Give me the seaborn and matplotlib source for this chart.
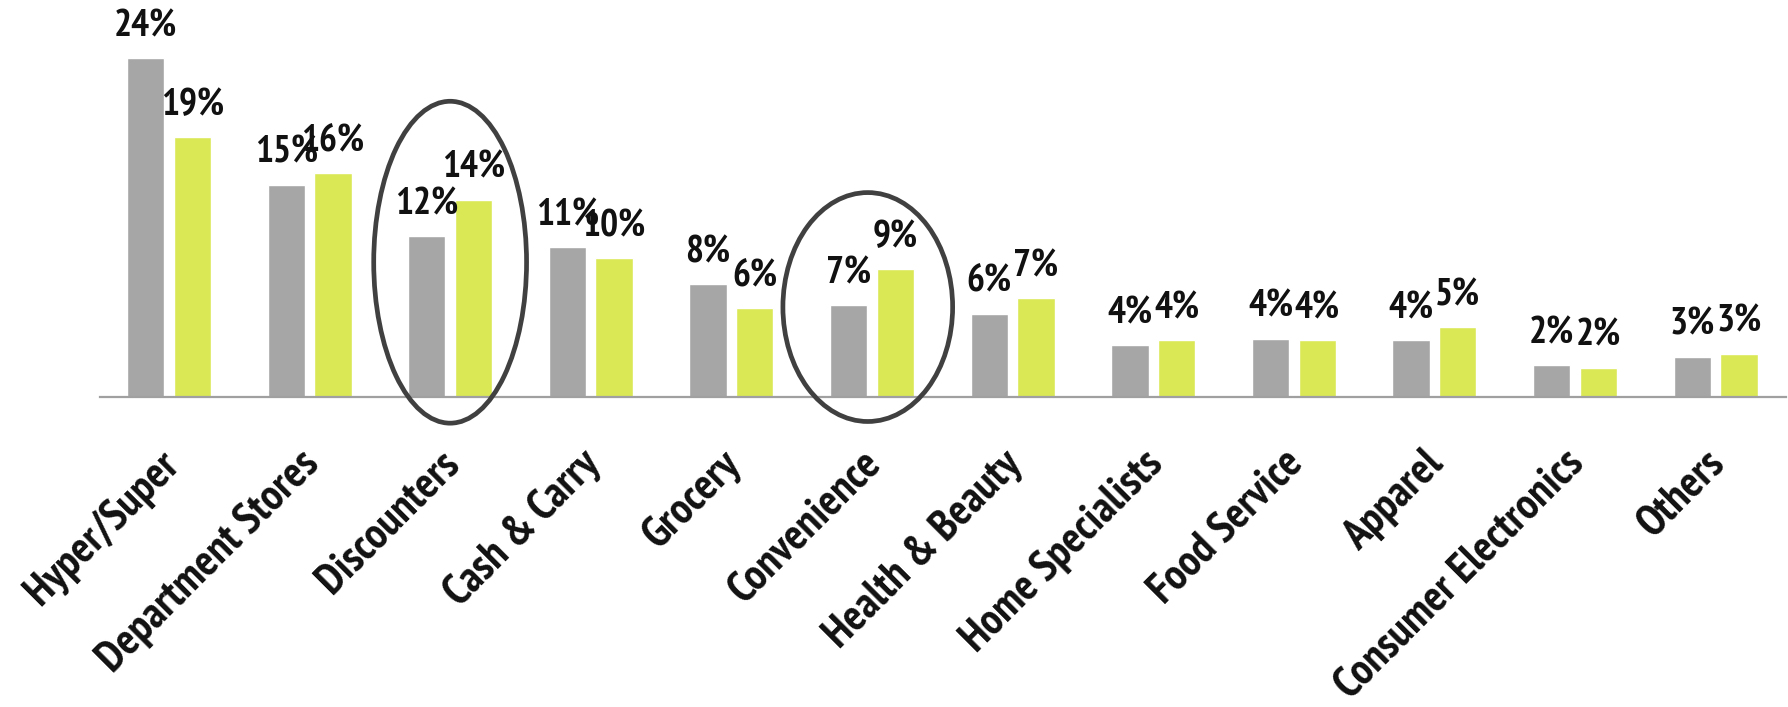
import os
import pandas as pd
import seaborn as sns
import matplotlib
matplotlib.use("Agg")
import matplotlib.pyplot as plt
from matplotlib import font_manager as fm
from matplotlib.textpath import TextPath
from matplotlib.patches import Ellipse
from matplotlib.transforms import ScaledTranslation

# Retail channel shares, two periods
categories = ["Hyper/Super", "Department Stores", "Discounters", "Cash & Carry",
              "Grocery", "Convenience", "Health & Beauty", "Home Specialists",
              "Food Service", "Apparel", "Consumer Electronics", "Others"]
share_prior = [24.4, 15.3, 11.6, 10.8, 8.1, 6.6, 6.0, 3.7, 4.2, 4.1, 2.3, 2.9]
share_current = [18.7, 16.1, 14.2, 10.0, 6.4, 9.2, 7.1, 4.1, 4.1, 5.0, 2.1, 3.1]
series_names = ["Prior", "Current"]
highlighted = ["Discounters", "Convenience"]

df = pd.DataFrame({
    "channel": categories * 2,
    "share": share_prior + share_current,
    "period": [series_names[0]] * len(categories) + [series_names[1]] * len(categories),
})

sns.set_theme(style="white")
plt.rcParams["font.family"] = ["DejaVu Sans"]


def bold_narrow_font():
    """Pick an upright bold condensed face if one is installed."""
    ranked = []
    for f in fm.fontManager.ttflist:
        key = (f.name + " " + os.path.basename(f.fname)).lower()
        if "italic" in key or "oblique" in key:
            continue
        narrow = any(k in key for k in ("narrow", "condensed", "compressed")) or \
            str(f.stretch) in ("condensed", "semi-condensed", "extra-condensed", "ultra-condensed")
        try:
            w = int(f.weight)
        except (TypeError, ValueError):
            w = 700 if "bold" in str(f.weight) else 400
        bold = w >= 600 or "bold" in key
        if narrow and bold:
            score = 0 if "narrow" in key else (1 if "condensed" in key else 2)
            ranked.append((score, f.fname))
    if ranked:
        ranked.sort()
        return fm.FontProperties(fname=ranked[0][1])
    return fm.FontProperties(family="DejaVu Sans", weight="bold")


def fitted(fp, text, width_px, height_text, height_px):
    """Font size (pt) so that the text's ink fits the given pixel box."""
    probe = fp.copy()
    probe.set_size(100)
    w = TextPath((0, 0), text, prop=probe).get_extents().width / 100
    h = TextPath((0, 0), height_text, prop=probe).get_extents().height / 100
    return min(width_px * 0.72 / w, height_px * 0.72 / h)


base_fp = bold_narrow_font()
value_fp = base_fp.copy()
value_fp.set_size(fitted(base_fp, "24%", 60, "24", 28))
tick_fp = base_fp.copy()
tick_fp.set_size(fitted(base_fp, "Hyper/Super", 196, "H", 31))

W, H = 1788, 707
fig = plt.figure(figsize=(W / 100, H / 100), dpi=100)
base_px = 396.8
ax = fig.add_axes([100 / W, 1 - base_px / H, 1686 / W, base_px / H])

sns.barplot(data=df, x="channel", y="share", hue="period",
            palette=["#A6A6A6", "#D9E854"], saturation=1,
            width=0.664, gap=0.2, legend=False, ax=ax)

ax.set_xlim(-0.49, len(categories) - 0.5)
ax.set_ylim(0, 28.6)

for cont in ax.containers:
    ax.bar_label(cont, labels=[f"{v:.0f}%" for v in cont.datavalues],
                 padding=10, fontproperties=value_fp, color="#111111")

# highlight rings around selected channels
rings = {"Discounters": (0.0, 9.7, 1.087, 23.2), "Convenience": (-0.03, 6.47, 1.207, 16.5)}
for name in highlighted:
    dx, cy, w, h = rings[name]
    ax.add_patch(Ellipse((categories.index(name) + dx, cy), w, h, fill=False,
                         edgecolor="#404040", lw=3.4, clip_on=False, zorder=5))

for side in ["left", "right", "top"]:
    ax.spines[side].set_visible(False)
ax.spines["bottom"].set_color("#A0A0A0")
ax.spines["bottom"].set_linewidth(1.6)
ax.set_yticks([])
ax.set_xlabel("")
ax.set_ylabel("")
ax.tick_params(axis="x", length=0, pad=30)
nudge = ScaledTranslation(-0.11, -0.05, fig.dpi_scale_trans)
for lbl in ax.get_xticklabels():
    lbl.set_fontproperties(tick_fp)
    lbl.set_rotation(45)
    lbl.set_ha("right")
    lbl.set_va("top")
    lbl.set_rotation_mode("anchor")
    lbl.set_color("#111111")
    lbl.set_transform(lbl.get_transform() + nudge)

fig.savefig("out.png", dpi=100, facecolor="white")
